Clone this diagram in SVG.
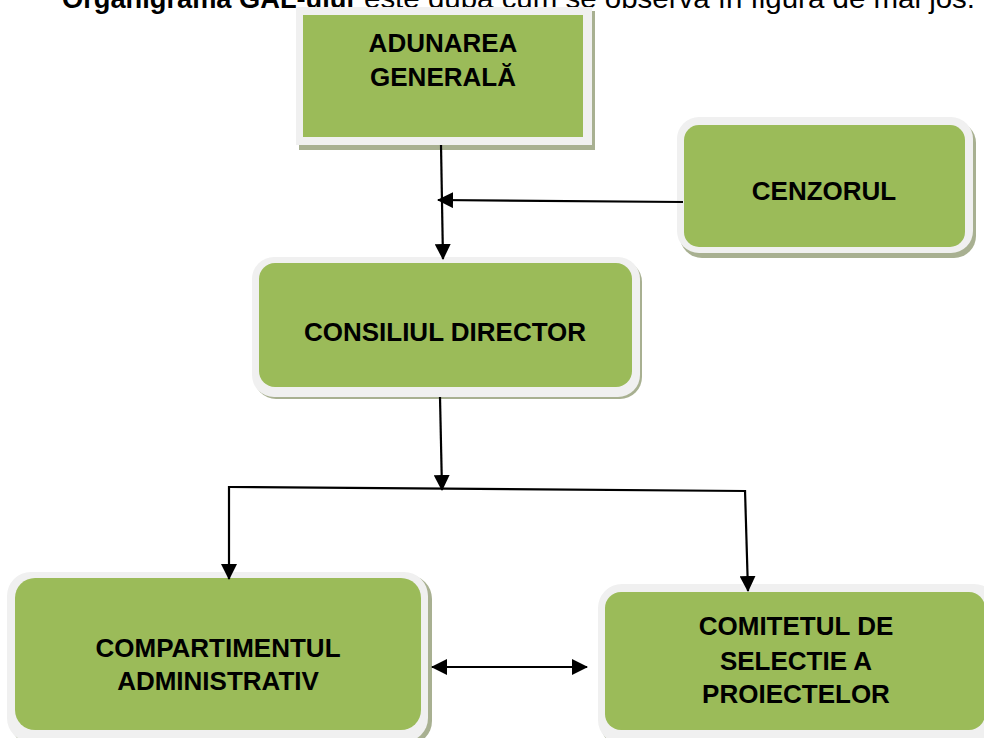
<svg xmlns="http://www.w3.org/2000/svg" width="984" height="738" viewBox="0 0 984 738">
  <style>
    .frame { fill: #f0f0f0; }
    .shadow { fill: #a8b091; }
    .box { fill: #9bbb59; }
    .lbl { font-family: "Liberation Sans", Arial, sans-serif; font-weight: bold; font-size: 26px; fill: #000; text-anchor: middle; }
    .head { font-family: "Liberation Sans", Arial, sans-serif; font-size: 28px; fill: #000; }
    .conn { stroke: #000; stroke-width: 2.2; fill: none; }
  </style>
  <defs>
    <marker id="arr" markerUnits="userSpaceOnUse" markerWidth="16" markerHeight="16" refX="15" refY="8" orient="auto-start-reverse">
      <path d="M0,0 L16,8 L0,16 Z" fill="#000"/>
    </marker>
  </defs>
  <rect width="984" height="738" fill="#ffffff"/>

  <g id="heading">
    <text class="head" x="62" y="8" font-weight="bold" textLength="292" lengthAdjust="spacingAndGlyphs">Organigrama GAL-ului</text>
    <text class="head" x="364" y="8" textLength="611" lengthAdjust="spacingAndGlyphs">este după cum se observă în figura de mai jos.</text>
  </g>

  <g id="adunarea-generala">
    <rect class="shadow" x="299" y="11" width="296" height="139"/>
    <rect class="frame" x="296" y="7" width="296" height="138"/>
    <rect class="box" x="303" y="15" width="280" height="122"/>
    <text class="lbl" x="443" y="52">ADUNAREA</text>
    <text class="lbl" x="443" y="86">GENERALĂ</text>
  </g>

  <g id="cenzorul">
    <rect class="shadow" x="680" y="121" width="296" height="137" rx="22"/>
    <rect class="frame" x="677" y="117" width="296" height="136" rx="22"/>
    <rect class="box" x="684" y="125" width="281" height="122" rx="15"/>
    <text class="lbl" x="824" y="200">CENZORUL</text>
  </g>

  <g id="consiliul-director">
    <rect class="shadow" x="254" y="260" width="388" height="139" rx="22"/>
    <rect class="frame" x="252" y="257" width="388" height="140" rx="22"/>
    <rect class="box" x="259" y="263" width="373" height="124" rx="16"/>
    <text class="lbl" x="445" y="341">CONSILIUL DIRECTOR</text>
  </g>

  <g id="compartimentul-administrativ">
    <rect class="shadow" x="10" y="575" width="422" height="170" rx="24"/>
    <rect class="frame" x="7" y="572" width="421" height="170" rx="24"/>
    <rect class="box" x="15" y="578" width="406" height="152" rx="20"/>
    <text class="lbl" x="218" y="657">COMPARTIMENTUL</text>
    <text class="lbl" x="218" y="690">ADMINISTRATIV</text>
  </g>

  <g id="comitetul-de-selectie">
    <rect class="shadow" x="601" y="588" width="400" height="160" rx="24"/>
    <rect class="frame" x="598" y="584" width="400" height="160" rx="24"/>
    <rect class="box" x="605" y="592" width="380" height="138" rx="16"/>
    <text class="lbl" x="796" y="635">COMITETUL DE</text>
    <text class="lbl" x="796" y="670">SELECTIE A</text>
    <text class="lbl" x="796" y="703">PROIECTELOR</text>
  </g>

  <g id="connectors">
    <line class="conn" x1="441" y1="145" x2="443" y2="259" marker-end="url(#arr)"/>
    <line class="conn" x1="683" y1="202" x2="438" y2="200" marker-end="url(#arr)"/>
    <line class="conn" x1="440" y1="397" x2="442" y2="490" marker-end="url(#arr)"/>
    <polyline class="conn" points="229,487 745,491"/>
    <line class="conn" x1="229" y1="486" x2="229" y2="579" marker-end="url(#arr)"/>
    <line class="conn" x1="745" y1="490" x2="748" y2="591" marker-end="url(#arr)"/>
    <line class="conn" x1="432" y1="667" x2="587" y2="667" marker-start="url(#arr)" marker-end="url(#arr)"/>
  </g>
</svg>
